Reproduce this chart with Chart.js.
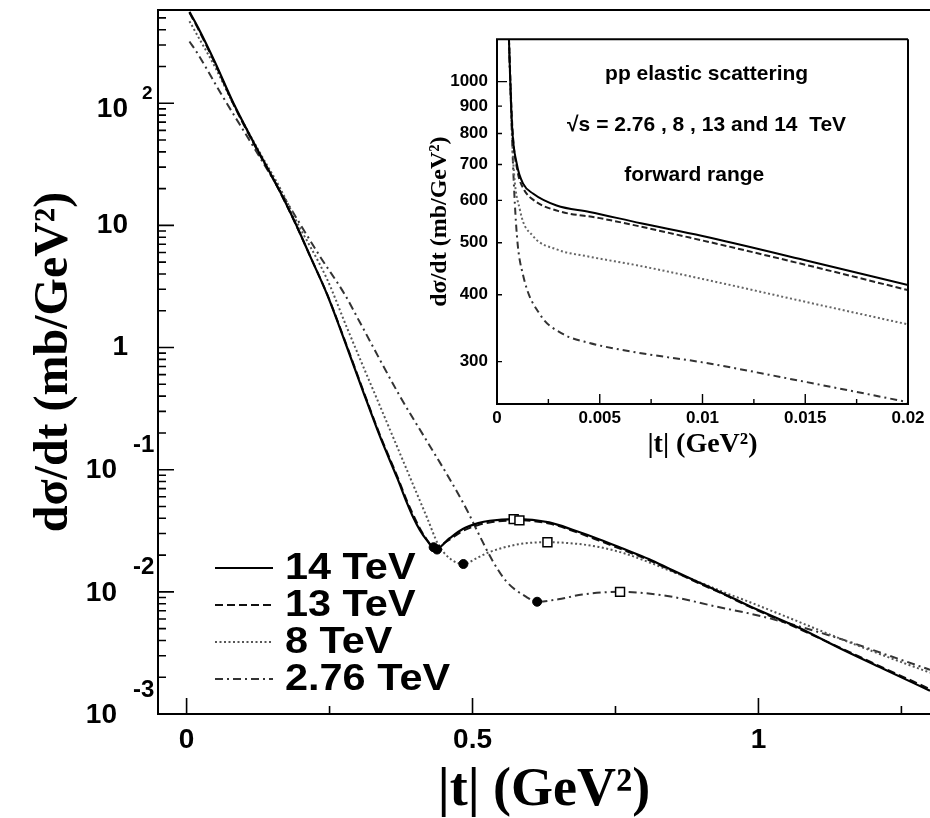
<!DOCTYPE html>
<html>
<head>
<meta charset="utf-8">
<script src="https://cdn.jsdelivr.net/npm/chart.js@4.4.1/dist/chart.umd.min.js"></script>
<style>
  body { margin: 0; background: #fff; }
  #wrap { position: relative; width: 930px; height: 818px; }
  #main { position: absolute; left: 0; top: 0; }
  #inset { position: absolute; left: 410px; top: 20px; }
</style>
</head>
<body>
<div id="wrap">
  <canvas id="main" width="930" height="818"></canvas>
  <canvas id="inset" width="520" height="450"></canvas>
</div>
<script>
// main panel: |t| (GeV^2) vs dsigma/dt (mb/GeV^2)
const energies = ['14 TeV', '13 TeV', '8 TeV', '2.76 TeV'];

const t14 = [0.005, 0.02, 0.05, 0.082, 0.117, 0.164, 0.19, 0.216, 0.246, 0.28, 0.31, 0.338, 0.369, 0.385, 0.396, 0.408, 0.42, 0.436, 0.46, 0.483, 0.51, 0.53, 0.573, 0.634, 0.68, 0.721, 0.765, 0.808, 0.85, 0.895, 0.94, 0.983, 1.07, 1.145, 1.22, 1.3];
const s14 = [560, 417, 215, 100, 48, 18.7, 10.5, 5.6, 2.7, 1.02, 0.42, 0.188, 0.084, 0.054, 0.041, 0.032, 0.0265, 0.0224, 0.0275, 0.0327, 0.0365, 0.0382, 0.0394, 0.037, 0.0316, 0.027, 0.0224, 0.0186, 0.015, 0.012, 0.0096, 0.0077, 0.0051, 0.0034, 0.00232, 0.00155];

const t13 = [0.005, 0.02, 0.05, 0.082, 0.117, 0.164, 0.19, 0.216, 0.246, 0.28, 0.31, 0.338, 0.369, 0.385, 0.396, 0.408, 0.42, 0.432, 0.46, 0.483, 0.51, 0.53, 0.582, 0.634, 0.68, 0.721, 0.765, 0.808, 0.85, 0.895, 0.94, 0.983, 1.07, 1.145, 1.22, 1.3];
const s13 = [552, 408, 210, 98, 47, 18.5, 10.4, 5.6, 2.72, 1.04, 0.43, 0.193, 0.087, 0.056, 0.043, 0.033, 0.0268, 0.0232, 0.0268, 0.0315, 0.0352, 0.037, 0.0385, 0.0362, 0.031, 0.0263, 0.0219, 0.0182, 0.0148, 0.0118, 0.0095, 0.0076, 0.005, 0.00345, 0.00237, 0.0016];

const t8 = [0.005, 0.02, 0.05, 0.082, 0.13, 0.164, 0.19, 0.246, 0.28, 0.355, 0.399, 0.42, 0.44, 0.462, 0.484, 0.51, 0.53, 0.58, 0.631, 0.68, 0.721, 0.765, 0.808, 0.85, 0.895, 0.94, 0.983, 1.07, 1.145, 1.22, 1.3];
const s8 = [470, 352, 197, 98, 38, 20, 11.3, 3.6, 1.47, 0.216, 0.07, 0.041, 0.0245, 0.0185, 0.0169, 0.0192, 0.0212, 0.0245, 0.0255, 0.0248, 0.0233, 0.0207, 0.0175, 0.0146, 0.0121, 0.0099, 0.0083, 0.0057, 0.0041, 0.003, 0.00218];

const t276 = [0.005, 0.02, 0.06, 0.117, 0.164, 0.233, 0.277, 0.303, 0.373, 0.42, 0.46, 0.49, 0.512, 0.535, 0.559, 0.594, 0.613, 0.65, 0.692, 0.758, 0.838, 0.925, 1.012, 1.145, 1.22, 1.3];
const s276 = [320, 252, 120, 44, 19, 5.6, 2.7, 1.61, 0.4, 0.172, 0.084, 0.047, 0.029, 0.018, 0.0122, 0.0091, 0.0083, 0.0087, 0.0095, 0.01, 0.0093, 0.0076, 0.0062, 0.0041, 0.0031, 0.0023];

// dips (filled circles) and secondary maxima (open squares), order 14, 13, 8, 2.76 TeV
const dipT = [0.438, 0.432, 0.484, 0.613];
const dipV = [0.0222, 0.0232, 0.0169, 0.0083];
const maxT = [0.572, 0.582, 0.631, 0.758];
const maxV = [0.0394, 0.0385, 0.0255, 0.01];

const xTicks = [0, 0.5, 1];
const xTickLabels = ['0', '0.5', '1'];
const xMinorTicks = [0.25, 0.75, 1.25];
const yTicks = [100, 10, 1, 0.1, 0.01, 0.001];
const yTickBase = ['10', '10', '1', '10', '10', '10'];
const yTickExp = ['2', '', '', '-1', '-2', '-3'];

// inset: forward range
const it14 = [0.00055, 0.00073, 0.00097, 0.00127, 0.00175, 0.0029, 0.0045, 0.007, 0.01, 0.015, 0.02];
const is14 = [1300, 830, 700, 645, 618, 587, 571, 544, 515, 464, 417];
const it13 = [0.00055, 0.00075, 0.001, 0.0013, 0.0018, 0.003, 0.005, 0.01, 0.015, 0.02];
const is13 = [1300, 820, 680, 630, 600, 573, 556, 505, 455, 408];
const it8 = [0.00055, 0.00078, 0.00112, 0.00175, 0.0029, 0.0045, 0.0068, 0.01, 0.015, 0.02];
const is8 = [1300, 722, 575, 515, 486, 471, 454, 428, 388, 352];
const it276 = [0.00055, 0.00078, 0.00097, 0.00127, 0.0021, 0.0032, 0.0045, 0.0068, 0.01, 0.015, 0.02];
const is276 = [1300, 700, 515, 435, 367, 338, 325, 312, 299, 275, 252];

const insetXTicks = [0, 0.005, 0.01, 0.015, 0.02];
const insetXLabels = ['0', '0.005', '0.01', '0.015', '0.02'];
const insetXMinor = [0.0025, 0.0075, 0.0125, 0.0175];
const insetYTicks = [300, 400, 500, 600, 700, 800, 900, 1000];
const insetYLabels = ['300', '400', '500', '600', '700', '800', '900', '1000'];
const insetNotes = ['pp elastic scattering', '\u221As = 2.76 , 8 , 13 and 14  TeV', 'forward range'];

const styles = [
    { dash: [], color: '#000', width: 2.2 },
    { dash: [8, 4], color: '#111', width: 2 },
    { dash: [2, 2.5], color: '#555', width: 2 },
    { dash: [8, 4, 2, 4], color: '#333', width: 2 }
];

Chart.defaults.color = '#000';
Chart.defaults.font.family = '"Liberation Sans", Arial, sans-serif';

function pts(ts, vs) {
    return ts.map((t, i) => ({ x: t, y: vs[i] }));
}

function curve(label, ts, vs, st) {
    return {
        label: label,
        data: pts(ts, vs),
        borderColor: st.color,
        borderDash: st.dash,
        borderWidth: st.width,
        pointRadius: 0,
        cubicInterpolationMode: 'monotone',
        fill: false,
        order: 1
    };
}

const frameTicks = {
    id: 'frameTicks',
    afterDatasetsDraw(chart, args, o) {
        const ctx = chart.ctx;
        const a = chart.chartArea;
        const x = chart.scales.x, y = chart.scales.y;
        ctx.save();
        ctx.strokeStyle = '#000';
        ctx.setLineDash([]);
        ctx.lineWidth = o.tickWidth;
        ctx.beginPath();
        o.xMajor.forEach(v => { const p = x.getPixelForValue(v); ctx.moveTo(p, a.bottom); ctx.lineTo(p, a.bottom - o.majorLen); });
        o.xMinor.forEach(v => { const p = x.getPixelForValue(v); ctx.moveTo(p, a.bottom); ctx.lineTo(p, a.bottom - o.minorLen); });
        o.yMajor.forEach(v => { const p = y.getPixelForValue(v); ctx.moveTo(a.left, p); ctx.lineTo(a.left + o.majorLen, p); });
        o.yMinor.forEach(v => { const p = y.getPixelForValue(v); ctx.moveTo(a.left, p); ctx.lineTo(a.left + o.minorLen, p); });
        ctx.stroke();
        ctx.lineWidth = o.frameWidth;
        ctx.beginPath();
        ctx.moveTo(a.right, a.top);
        ctx.lineTo(a.left, a.top);
        ctx.lineTo(a.left, a.bottom);
        ctx.lineTo(a.right, a.bottom);
        if (o.rightBorder) ctx.lineTo(a.right, a.top);
        ctx.stroke();
        ctx.restore();
    }
};

// exponent style tick labels and the legend of the main panel
const mainDecor = {
    id: 'mainDecor',
    afterDraw(chart) {
        const ctx = chart.ctx;
        const a = chart.chartArea;
        const y = chart.scales.y;
        ctx.save();
        ctx.fillStyle = '#000';
        ctx.textBaseline = 'middle';
        yTicks.forEach((v, i) => {
            const p = y.getPixelForValue(v);
            const e = yTickExp[i];
            ctx.font = 'bold 28px "Liberation Sans"';
            ctx.textAlign = 'right';
            if (!e) {
                ctx.fillText(yTickBase[i], a.left - 30, p);
            } else if (e[0] !== '-') {
                ctx.fillText(yTickBase[i], a.left - 30, p + 6);
                ctx.font = 'bold 19px "Liberation Sans"';
                ctx.textAlign = 'left';
                ctx.fillText(e, a.left - 16, p - 9);
            } else {
                ctx.fillText(yTickBase[i], a.left - 41, p + 1);
                ctx.font = 'bold 24px "Liberation Sans"';
                ctx.textAlign = 'left';
                ctx.fillText(e, a.left - 25, p - 24);
            }
        });

        // legend
        chart.data.datasets.slice(0, 4).forEach((ds, i) => {
            const ly = a.bottom - 146 + i * 37;
            ctx.strokeStyle = ds.borderColor;
            ctx.lineWidth = ds.borderWidth;
            ctx.setLineDash(ds.borderDash);
            ctx.beginPath();
            ctx.moveTo(a.left + 57, ly);
            ctx.lineTo(a.left + 115, ly);
            ctx.stroke();
            ctx.save();
            ctx.translate(a.left + 127, ly);
            ctx.scale(1.12, 1);
            ctx.font = 'bold 37px "Liberation Sans"';
            ctx.textAlign = 'left';
            ctx.fillStyle = '#000';
            ctx.fillText(ds.label, 0, 1);
            ctx.restore();
        });
        ctx.restore();
    }
};

const yMinorMain = [];
for (let k = -3; k <= 2; k++) {
    for (let m = 2; m <= 9; m++) {
        const v = m * Math.pow(10, k);
        if (v < 580) yMinorMain.push(v);
    }
}

new Chart(document.getElementById('main'), {
    type: 'line',
    data: {
        datasets: [
            curve(energies[0], t14, s14, styles[0]),
            curve(energies[1], t13, s13, styles[1]),
            curve(energies[2], t8, s8, styles[2]),
            curve(energies[3], t276, s276, styles[3]),
            {
                label: 'dip', data: pts(dipT, dipV), showLine: false, order: 0,
                pointStyle: 'circle', pointRadius: 4.5, backgroundColor: '#000', borderColor: '#000', borderWidth: 1
            },
            {
                label: 'max', data: pts(maxT, maxV), showLine: false, order: 0,
                pointStyle: 'rect', pointRadius: 6.3, backgroundColor: '#fff', borderColor: '#000', borderWidth: 1.5
            }
        ]
    },
    options: {
        responsive: false,
        devicePixelRatio: 1,
        animation: false,
        layout: { autoPadding: false, padding: { top: 10, right: 0, bottom: 0, left: 0 } },
        plugins: {
            legend: { display: false },
            tooltip: { enabled: false },
            frameTicks: {
                xMajor: xTicks, xMinor: xMinorTicks, yMajor: yTicks, yMinor: yMinorMain,
                majorLen: 16, minorLen: 8, tickWidth: 1.6, frameWidth: 2, rightBorder: false
            }
        },
        scales: {
            x: {
                type: 'linear', min: -0.05, max: 1.3,
                grid: { display: false, drawTicks: false },
                border: { display: false },
                afterBuildTicks: s => { s.ticks = xTicks.map(v => ({ value: v })); },
                afterFit: s => { s.height = 104; },
                ticks: {
                    autoSkip: false, maxRotation: 0, padding: 9,
                    font: { size: 28, weight: 'bold' },
                    callback: (v, i) => xTickLabels[i]
                },
                title: {
                    display: true, text: '|t| (GeV\u00B2)',
                    font: { family: '"Liberation Serif", "Times New Roman", serif', size: 54, weight: 'bold', lineHeight: 1 },
                    padding: { top: 0, bottom: 0 }
                }
            },
            y: {
                type: 'logarithmic', min: 0.001, max: 580,
                grid: { display: false, drawTicks: false },
                border: { display: false },
                ticks: { display: false },
                afterFit: s => { s.width = 158; },
                title: {
                    display: true, text: 'd\u03C3/dt (mb/GeV\u00B2)',
                    font: { family: '"Liberation Serif", "Times New Roman", serif', size: 48, weight: 'bold', lineHeight: 1 },
                    padding: { top: 31, bottom: 0 }
                }
            }
        }
    },
    plugins: [frameTicks, mainDecor]
});

// inset notes drawn at data coordinates
const insetDecor = {
    id: 'insetDecor',
    afterDraw(chart, args, o) {
        const ctx = chart.ctx;
        const x = chart.scales.x, y = chart.scales.y;
        ctx.save();
        ctx.fillStyle = '#000';
        ctx.font = 'bold 21px "Liberation Sans"';
        ctx.textAlign = 'center';
        ctx.textBaseline = 'middle';
        o.notes.forEach(n => ctx.fillText(n.text, x.getPixelForValue(n.t), y.getPixelForValue(n.v)));
        ctx.restore();
    }
};

new Chart(document.getElementById('inset'), {
    type: 'line',
    data: {
        datasets: [
            curve(energies[0], it14, is14, { dash: [], color: '#000', width: 2 }),
            curve(energies[1], it13, is13, { dash: [6, 3], color: '#222', width: 2 }),
            curve(energies[2], it8, is8, { dash: [2, 2.5], color: '#666', width: 2 }),
            curve(energies[3], it276, is276, { dash: [7, 4, 2, 4], color: '#333', width: 2 })
        ]
    },
    options: {
        responsive: false,
        devicePixelRatio: 1,
        animation: false,
        layout: { autoPadding: false, padding: { top: 12, right: 22, bottom: 0, left: 0 } },
        plugins: {
            legend: { display: false },
            tooltip: { enabled: false },
            frameTicks: {
                xMajor: insetXTicks, xMinor: insetXMinor, yMajor: [1000], yMinor: insetYTicks.slice(0, 7),
                majorLen: 10, minorLen: 5, tickWidth: 1.4, frameWidth: 2, rightBorder: true
            },
            insetDecor: {
                notes: [
                    { text: insetNotes[0], t: 0.0102, v: 1034 },
                    { text: insetNotes[1], t: 0.0102, v: 830 },
                    { text: insetNotes[2], t: 0.0096, v: 670 }
                ]
            }
        },
        scales: {
            x: {
                type: 'linear', min: 0, max: 0.02,
                grid: { display: false, drawTicks: false },
                border: { display: false },
                afterBuildTicks: s => { s.ticks = insetXTicks.map(v => ({ value: v })); },
                afterFit: s => { s.height = 66; },
                ticks: {
                    autoSkip: false, maxRotation: 0, padding: 4,
                    font: { size: 17, weight: 'bold' },
                    callback: (v, i) => insetXLabels[i]
                },
                title: {
                    display: true, text: '|t| (GeV\u00B2)',
                    font: { family: '"Liberation Serif", "Times New Roman", serif', size: 28, weight: 'bold', lineHeight: 1 },
                    padding: { top: 0, bottom: 11 }
                }
            },
            y: {
                type: 'logarithmic', min: 250, max: 1200,
                grid: { display: false, drawTicks: false },
                border: { display: false },
                afterBuildTicks: s => { s.ticks = insetYTicks.map(v => ({ value: v })); },
                afterFit: s => { s.width = 87; },
                ticks: {
                    autoSkip: false, padding: 9,
                    font: { size: 17, weight: 'bold' },
                    callback: (v, i) => insetYLabels[i]
                },
                title: {
                    display: true, text: 'd\u03C3/dt (mb/GeV\u00B2)',
                    font: { family: '"Liberation Serif", "Times New Roman", serif', size: 24, weight: 'bold', lineHeight: 1 },
                    padding: { top: 18, bottom: 0 }
                }
            }
        }
    },
    plugins: [frameTicks, insetDecor]
});
</script>
</body>
</html>
